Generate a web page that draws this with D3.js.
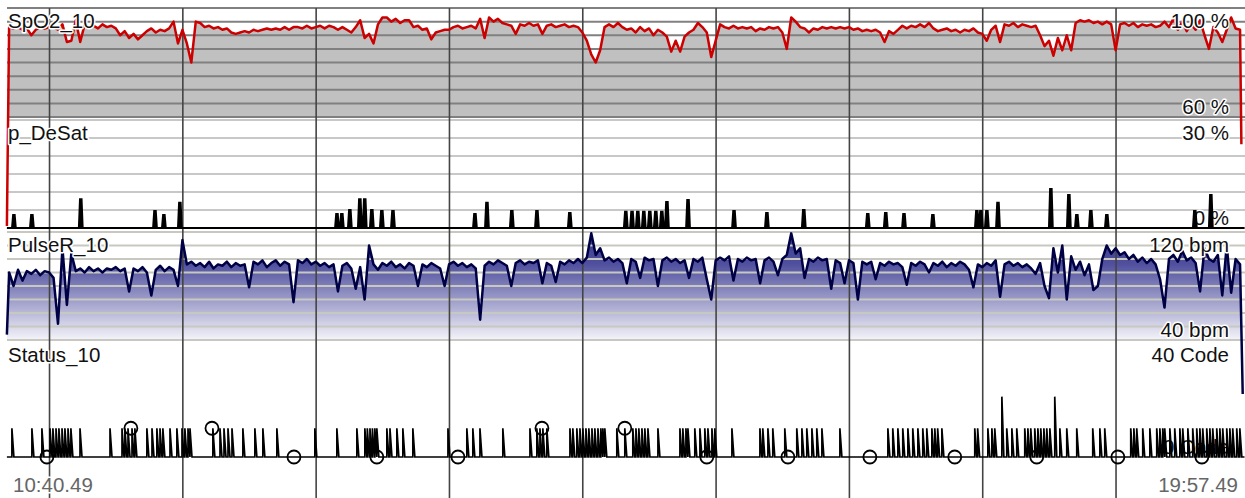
<!DOCTYPE html>
<html>
<head>
<meta charset="utf-8">
<script src="https://cdn.jsdelivr.net/npm/d3@7"></script>
<style>
  body { margin: 0; background: #fff; }
  svg text { font-family: "Liberation Sans", Arial, sans-serif; font-size: 20.5px; }
</style>
</head>
<body>
<script>
// recording window
var startTime = new Date(2020, 0, 1, 10, 40, 49),
    endTime = new Date(2020, 0, 1, 19, 57, 49);

// 10s-averaged channels, one reading every 2 minutes starting 1 min in
var sampleStep = 2, firstSample = 1;

var spo2Values = [
  93,92.5,93,92,92.5,90,92,93,92.5,93,
  93,92,94,87.5,88,95.5,87.5,94,93,93.5,92.5,
  94,93,93.5,92.5,90,91.5,89,90.5,88.5,90,91.5,
  92.5,91,92,91.5,92.5,95,87,92,87,80,95,
  94.5,93,93.5,92.5,93,92,92.5,91,90.5,91,91.5,
  91,92,91.5,92,92.5,92,92.5,92,93,92,93,
  93,92.5,93.5,92.5,93,93.5,92.5,93.5,93,92,93,
  92,91,93,95.5,89,90.5,87,94,96.5,96.5,95,
  96,94.5,95.5,95.5,93,93.5,92,92.5,88.5,91,91.5,
  92,92,93,93.5,92.5,93,93.5,92.5,96,89,96.5,
  95,96,94.5,94,93.5,90.5,94,93.5,94.5,93.5,94,
  90.5,93.5,94,93,93.5,94,93,93.5,93,91,88,
  83,80,84.5,93,94,93,94.5,93,92,92.5,91,
  93,91.5,92.5,90,92,91,89.5,84,88,84,89.5,
  91,92,94.5,93,91,82,88,94,93,92.5,93.5,
  92.5,93,92.5,93,91.5,92.5,92,93,92.5,93,91,
  85,96.5,95,93,92.5,91,92.5,92,93,92.5,93,
  92.5,93,92.5,93,92,92.5,91.5,92,91.5,92,91,
  87.5,91.5,90.5,92,93.5,92.5,93.5,93,94,93,94.5,
  92.5,91.5,92,92.5,91.5,92,91,92,91.5,92.5,91,
  90.5,88,92,93.5,87.5,94,93.5,94.5,93,94,93.5,
  93,93.5,90,86,88,82.5,89,84.5,90,84.5,94.5,
  95.5,95,95.5,94.5,95,94,95,94,84.5,94,94.5,
  93.5,94.5,93,94,93.5,94,93,93.5,95,93,96,
  92,95,91.5,94,92,95.5,90,85,93,91,87.5,
  92,96.5,92.5,92
];
// readings while the probe was being put on / taken off
var spo2EdgeTimes = [0, 555.6], spo2EdgeValues = [20, 50];

var pulseValues = [
  90,80,92,84,91,89,92,88,91,90,
  86,52,108,66,104,91,93,90,94,91,
  93,90,93,92,94,91,93,76,93,91,
  94,90,73,92,95,91,94,92,80,114,
  96,98,95,97,94,98,93,96,95,98,
  94,97,95,96,79,98,96,99,94,97,
  99,95,98,96,68,99,97,100,96,98,
  95,97,94,96,76,95,97,93,78,94,
  70,110,96,92,97,95,98,94,96,93,
  97,95,80,96,94,97,95,93,80,96,
  98,95,97,94,96,93,55,95,98,96,
  99,97,95,80,97,99,96,98,97,99,
  82,97,95,83,98,96,99,97,100,97,
  101,119,103,108,99,101,98,100,97,82,
  100,98,86,101,99,100,80,99,101,98,
  100,97,99,86,100,98,101,85,70,99,
  101,99,102,84,100,98,101,99,100,82,
  99,101,98,88,100,103,119,104,108,86,
  100,98,101,99,100,78,99,97,82,99,
  97,70,98,96,98,85,97,95,98,96,
  97,94,81,97,95,98,96,90,97,95,
  98,94,97,95,98,96,92,79,96,94,
  97,95,99,72,96,98,95,97,94,96,
  93,89,97,80,71,108,90,110,70,102,
  92,98,88,96,77,80,100,110,104,108,
  103,105,100,103,98,101,97,100,96,85,
  64,100,103,98,106,99,101,97,76,108,
  100,98,103,73,110,75,100,96
];
var pulseEdgeTimes = [0, 556.2], pulseEdgeValues = [44, 0];

// desaturation episodes: minutes from start, depth in %
var desatTimes = [2.3,10.4,32.4,65.8,69.8,77,147.7,149.9,153.5,158,160.2,163.4,167.9,172.9,
  209.8,215.2,226.4,237.7,252.5,277.7,280.5,283.1,285.8,288.5,291.2,293.9,296.2,305.7,
  326.4,341.2,357.8,386.6,394.7,402.9,415.9,435.7,437.5,440.2,445.2,469,477.1,480.7,
  487,494.2,533.8,541];
var desatValues = [3.6,3.6,8,4.7,3.6,7,3.9,3.9,5,8,8,5,4.7,4.7,
  3.9,7,4.7,4.7,4.2,4.5,4.5,4.5,4.5,4.5,4.5,4.5,7.2,7.8,
  4.7,4.2,5,3.9,4.2,3.9,3.6,4.7,4.7,4.7,7,10.8,9.2,3.6,
  4.7,3.6,4.7,9.2];

// status codes: normal flags (code 10) and two code-21 events
var statusTimes = [2.25,11.25,15.75,19.4,20.7,22.1,23.4,24.8,26.1,27.5,28.8,32.9,46.4,51.8,53.1,
  54.5,56.3,57.6,63,65.3,67.5,68.9,70.2,73.4,76.5,78.8,80.1,81.5,82.4,92.7,95.9,97.7,99.5,
  101.3,106.2,111.6,115.2,121.5,138.6,148.5,157.5,161.1,162.2,163.4,164.5,165.6,166.5,171,
  172.4,175.5,178.2,182.7,198.5,207,209.7,212.9,223.2,235.4,238.5,239.9,241.2,243,253.4,
  254.7,256.5,257.9,259.2,260.6,261.9,263.3,264.6,266,267.3,268.2,269.1,274.5,278.1,281.7,
  283.1,284.4,285.8,287.1,288.5,293,302.9,304.2,305.6,306.5,309.6,311.9,314.1,315.5,317.3,
  318.6,326.3,338.9,340.2,342.5,344.7,350.1,355.5,357.8,360,362.3,364.5,366.8,374.9,396.5,
  398.7,401,403.2,405.5,407.7,410,412.2,414,416.3,417.6,418.9,420.8,435.6,436.9,441.5,443.3,
  444.6,450,452.3,454.5,458.1,459.5,460.8,462.6,464,465.3,466.7,468,469.4,473.9,477,481.5,
  488.7,491.9,494.1,505.8,507.2,508.5,511.2,514.4,517.5,518.9,520.2,521.1,523.4,525.6,527.9,
  529.2,531.5,533.7,535.5,536.9,538.2,540,541.4,542.7,544.5,545.9,547.2,549,550.4,551.7,
  553.5,554.9];
var statusCode = 10;
var statusTallTimes = [447.8, 471.6], statusTallCode = 21;
var statusMarkTimes = [18,55.8,92.3,129.2,166.5,203,240.8,278.1,315,351.5,388.4,426.6,463.5,500,537.8];
var statusMarkValues = [0,10,10,0,0,0,10,10,0,0,0,0,0,0,0];

// channel names and scale limits
var channelNames = ["SpO2_10", "p_DeSat", "PulseR_10", "Status_10"];
var channelUnits = ["%", "%", "bpm", "Code"];
var channelMin = [60, 0, 40, 0];
var channelMax = [100, 30, 120, 40];

// ---------------------------------------------------------------
var W = 1245, H = 498;
var bands = [[8, 117], [120, 228], [232, 340], [342, 457]];
var gridColors = ["#808080", "#c8c8c8", "#c8c8c0", null];
var gridCounts = [8, 6, 8, 0];

var svg = d3.select("body").append("svg")
    .attr("width", W).attr("height", H);

var x = d3.scaleTime().domain([startTime, endTime]).range([6.9, 1244.5]);
function at(m) { return new Date(+startTime + m * 60000); }

var ys = bands.map(function (b, i) {
    return d3.scaleLinear().domain([channelMin[i], channelMax[i]]).range([b[1], b[0]]);
});

function series(values, edgeT, edgeV) {
    var pts = values.map(function (v, i) { return { t: firstSample + i * sampleStep, v: v }; });
    pts.unshift({ t: edgeT[0], v: edgeV[0] });
    pts.push({ t: edgeT[1], v: edgeV[1] });
    return pts;
}
var spo2 = series(spo2Values, spo2EdgeTimes, spo2EdgeValues);
var pulse = series(pulseValues, pulseEdgeTimes, pulseEdgeValues);

var defs = svg.append("defs");
bands.forEach(function (b, i) {
    defs.append("clipPath").attr("id", "clip" + i)
        .append("rect").attr("x", 0).attr("y", b[0]).attr("width", W).attr("height", b[1] - b[0]);
});
var grad = defs.append("linearGradient").attr("id", "pulseGrad")
    .attr("gradientUnits", "userSpaceOnUse")
    .attr("x1", 0).attr("x2", 0).attr("y1", bands[2][0]).attr("y2", bands[2][1]);
grad.append("stop").attr("offset", 0).attr("stop-color", "#38388c");
grad.append("stop").attr("offset", 0.3).attr("stop-color", "#50509f");
grad.append("stop").attr("offset", 1).attr("stop-color", "#f4f4fa");

// fills
svg.append("path").datum(spo2)
    .attr("clip-path", "url(#clip0)")
    .attr("fill", "#c0c0c0")
    .attr("d", d3.area()
        .x(function (d) { return x(at(d.t)); })
        .y0(ys[0](channelMin[0]))
        .y1(function (d) { return ys[0](d.v); }));

svg.append("path").datum(pulse)
    .attr("clip-path", "url(#clip2)")
    .attr("fill", "url(#pulseGrad)")
    .attr("d", d3.area()
        .x(function (d) { return x(at(d.t)); })
        .y0(ys[2](channelMin[2]))
        .y1(function (d) { return ys[2](d.v); }));

// horizontal grid
bands.forEach(function (b, i) {
    if (!gridCounts[i]) return;
    svg.append("g").selectAll("line")
        .data(ys[i].ticks(gridCounts[i]))
        .enter().append("line")
        .attr("x1", 7).attr("x2", W)
        .attr("y1", function (d) { return ys[i](d); })
        .attr("y2", function (d) { return ys[i](d); })
        .attr("stroke", gridColors[i])
        .attr("stroke-width", 2);
});

function label(txt, xx, yy, anchor, color) {
    return svg.append("text").text(txt)
        .attr("x", xx).attr("y", yy)
        .attr("text-anchor", anchor)
        .attr("fill", color || "#111")
        .attr("stroke", "#fff").attr("stroke-width", 3)
        .attr("stroke-linejoin", "round")
        .attr("paint-order", "stroke");
}

// lower limit labels
bands.forEach(function (b, i) {
    label(channelMin[i] + " " + channelUnits[i], 1229, b[1] - 3, "end");
});

// hour lines
svg.append("g").selectAll("line")
    .data(d3.timeHour.range(startTime, endTime))
    .enter().append("line")
    .attr("x1", function (d) { return x(d); })
    .attr("x2", function (d) { return x(d); })
    .attr("y1", 8).attr("y2", H)
    .attr("stroke", "#444").attr("stroke-width", 1.6);

// SpO2 trace
svg.append("path").datum(spo2)
    .attr("fill", "none").attr("stroke", "#cc0000").attr("stroke-width", 2.5)
    .attr("stroke-linejoin", "round")
    .attr("d", d3.line()
        .x(function (d) { return x(at(d.t)); })
        .y(function (d) { return ys[0](d.v); }));

// desaturation spikes
var desatPts = [{ t: 0, v: 0 }];
desatTimes.forEach(function (t, i) {
    desatPts.push({ t: t, v: 0 }, { t: t + 0.5, v: desatValues[i] },
                  { t: t + 1.2, v: desatValues[i] }, { t: t + 1.7, v: 0 });
});
desatPts.push({ t: 557, v: 0 });
svg.append("path").datum(desatPts)
    .attr("fill", "#000").attr("stroke", "#000").attr("stroke-width", 2)
    .attr("d", d3.area()
        .x(function (d) { return x(at(d.t)); })
        .y0(ys[1](0))
        .y1(function (d) { return ys[1](d.v); }));

// pulse trace
svg.append("path").datum(pulse)
    .attr("fill", "none").attr("stroke", "#000044").attr("stroke-width", 2.5)
    .attr("stroke-linejoin", "round")
    .attr("d", d3.line()
        .x(function (d) { return x(at(d.t)); })
        .y(function (d) { return ys[2](d.v); }));

// status trace
var events = statusTimes.map(function (t) { return { t: t, v: statusCode }; })
    .concat(statusTallTimes.map(function (t) { return { t: t, v: statusTallCode }; }))
    .sort(function (a, b) { return a.t - b.t; });
var statusPts = [{ t: 0, v: 0 }];
events.forEach(function (e) {
    statusPts.push({ t: e.t, v: 0 }, { t: e.t, v: e.v }, { t: e.t + 0.9, v: 0 });
});
statusPts.push({ t: 557, v: 0 });
svg.append("path").datum(statusPts)
    .attr("fill", "none").attr("stroke", "#000").attr("stroke-width", 1.7)
    .attr("d", d3.line()
        .x(function (d) { return x(at(d.t)); })
        .y(function (d) { return ys[3](d.v); }));

svg.append("g").selectAll("circle")
    .data(statusMarkTimes)
    .enter().append("circle")
    .attr("cx", function (d) { return x(at(d)); })
    .attr("cy", function (d, i) { return ys[3](statusMarkValues[i]); })
    .attr("r", 6.5)
    .attr("fill", "none").attr("stroke", "#000").attr("stroke-width", 1.8);

// channel names and upper limits
bands.forEach(function (b, i) {
    label(channelNames[i], 8, b[0] + 20, "start");
    label(channelMax[i] + " " + channelUnits[i], 1229, b[0] + 20, "end");
});

// time stamps
var fmt = d3.timeFormat("%H:%M.%S");
label(fmt(startTime), 13, 492, "start", "#666");
label(fmt(endTime), 1238, 492, "end", "#666");
</script>
</body>
</html>
